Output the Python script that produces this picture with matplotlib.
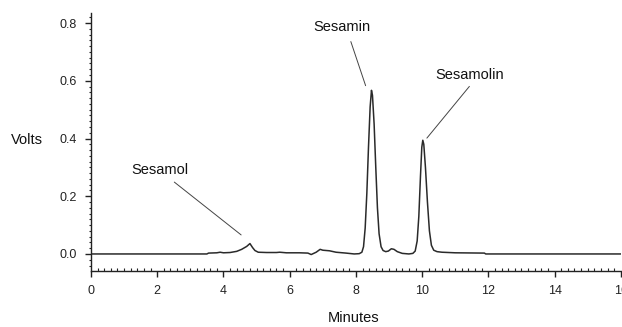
import matplotlib
matplotlib.use("Agg")
import matplotlib.pyplot as plt
from matplotlib.ticker import MultipleLocator

# Tracciato letto a occhio dal cromatogramma (minuti, volt)
minutes = [0.0, 3.5, 3.55, 3.8, 3.9, 4.0, 4.2, 4.4, 4.55, 4.7, 4.8, 4.88, 4.95, 5.05,
           5.3, 5.6, 5.7, 5.9, 6.3, 6.55, 6.65, 6.8, 6.92, 7.0, 7.2, 7.4, 7.7, 7.95,
           8.1, 8.18, 8.23, 8.28, 8.33, 8.38, 8.43, 8.47, 8.5, 8.55, 8.6, 8.65, 8.7,
           8.76, 8.82, 8.9, 8.98, 9.07, 9.15, 9.25, 9.4, 9.6, 9.72, 9.79, 9.85, 9.9,
           9.95, 9.99, 10.02, 10.05, 10.1, 10.16, 10.22, 10.28, 10.35, 10.45, 10.6,
           11.0, 11.88, 11.92, 16.0]
volts = [0.0, 0.0, 0.003, 0.004, 0.006, 0.004, 0.005, 0.009, 0.016, 0.026, 0.036, 0.022, 0.012, 0.006,
         0.005, 0.005, 0.006, 0.004, 0.004, 0.003, -0.002, 0.006, 0.016, 0.013, 0.011, 0.006, 0.003, 0.0,
         0.001, 0.006, 0.025, 0.09, 0.21, 0.37, 0.51, 0.567, 0.55, 0.45, 0.3, 0.16, 0.07,
         0.025, 0.012, 0.008, 0.01, 0.018, 0.016, 0.008, 0.002, 0.0, 0.002, 0.01, 0.045, 0.13,
         0.27, 0.37, 0.394, 0.38, 0.3, 0.18, 0.08, 0.03, 0.013, 0.008, 0.006,
         0.004, 0.003, 0.0, 0.0]

# Nomi dei picchi e posizione delle etichette
peak_names = ["Sesamol", "Sesamin", "Sesamolin"]
label_pos = [(2.08, 0.29), (7.58, 0.785), (11.45, 0.62)]
line_start = [(2.45, 0.255), (7.82, 0.745), (11.48, 0.588)]
line_end = [(4.6, 0.06), (8.32, 0.574), (10.09, 0.394)]

font = ["Liberation Sans", "DejaVu Sans"]

fig = plt.figure(figsize=(6.22, 3.27), dpi=100)
ax = fig.add_axes([0.1463, 0.1713, 0.8518, 0.789])

ax.plot(minutes, volts, color="#2a2a2a", lw=1.1)

for name, lp, ls, le in zip(peak_names, label_pos, line_start, line_end):
    ax.text(lp[0], lp[1], name, ha="center", va="center", fontsize=10.5,
            family=font, color="#111111")
    ax.annotate("", xy=le, xytext=ls,
                arrowprops=dict(arrowstyle="-", color="#444444", lw=0.7))

ax.set_xlim(0, 16)
ax.set_ylim(-0.059, 0.835)
ax.xaxis.set_major_locator(MultipleLocator(2))
ax.xaxis.set_minor_locator(MultipleLocator(0.2))
ax.yaxis.set_minor_locator(MultipleLocator(0.02))
ax.set_yticks([0.0, 0.2, 0.4, 0.6, 0.8])
ax.set_yticklabels(["0.0", "0.2", "0.4", "0.6", "0.8"])

for s in ["top", "right"]:
    ax.spines[s].set_visible(False)
for s in ["left", "bottom"]:
    ax.spines[s].set_color("#222222")
    ax.spines[s].set_linewidth(1.0)

ax.tick_params(axis="x", which="major", direction="out", length=4, width=1,
               colors="#222222", pad=6)
ax.tick_params(axis="x", which="minor", direction="in", length=2, width=0.8,
               colors="#222222")
ax.tick_params(axis="y", which="major", direction="out", length=4, width=1,
               colors="#222222", pad=6)
ax.tick_params(axis="y", which="minor", direction="out", length=1.5, width=0.8,
               colors="#222222")
for lab in ax.get_xticklabels() + ax.get_yticklabels():
    lab.set_family(font)
    lab.set_fontsize(9)
    lab.set_color("#222222")

fig.text(27 / 622, 1 - 140 / 327, "Volts", ha="center", va="center",
         fontsize=10.5, family=font, color="#111111")
fig.text(354 / 622, 1 - 318 / 327, "Minutes", ha="center", va="center",
         fontsize=10.5, family=font, color="#111111")

fig.savefig("out.png", dpi=100)
